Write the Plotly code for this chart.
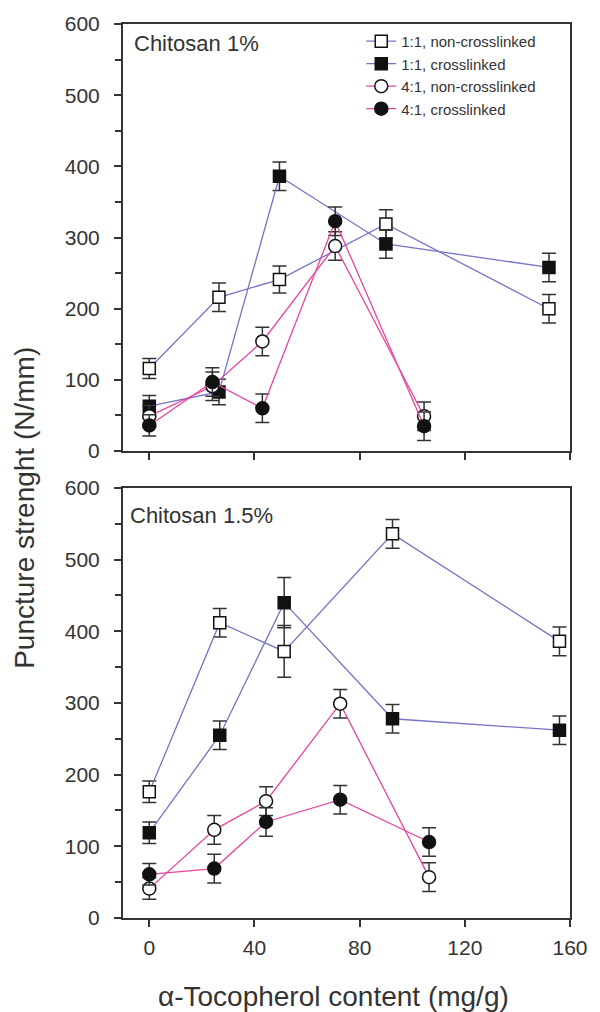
import plotly.graph_objects as go
from plotly.subplots import make_subplots

# ---- data ----
series_names = ["1:1, non-crosslinked", "1:1, crosslinked", "4:1, non-crosslinked", "4:1, crosslinked"]

# Chitosan 1%
top_x_11 = [0, 26.5, 49.5, 90, 152]
top_x_41 = [0, 24, 43, 70.7, 104.5]
top_11_nc = [116, 216, 241, 319, 200]
top_11_nc_err = [14, 20, 19, 20, 20]
top_11_c = [63, 83, 386, 291, 258]
top_11_c_err = [15, 18, 20, 20, 20]
top_41_nc = [49, 91, 154, 288, 49]
top_41_nc_err = [15, 20, 20, 20, 20]
top_41_c = [36, 97, 60, 323, 35]
top_41_c_err = [15, 20, 20, 20, 20]

# Chitosan 1.5%
bot_x_11 = [0, 26.8, 51.3, 92.5, 156]
bot_x_41 = [0, 24.7, 44.4, 72.6, 106.4]
bot_11_nc = [176, 412, 372, 536, 386]
bot_11_nc_err = [15, 20, 36, 20, 20]
bot_11_c = [119, 255, 440, 278, 262]
bot_11_c_err = [15, 20, 35, 20, 20]
bot_41_nc = [41, 123, 163, 299, 57]
bot_41_nc_err = [15, 20, 20, 20, 20]
bot_41_c = [61, 69, 134, 165, 106]
bot_41_c_err = [15, 20, 20, 20, 20]

x_ticks = [0, 40, 80, 120, 160]
y_ticks = [0, 100, 200, 300, 400, 500, 600]

BLUE = "#7474c6"
PINK = "#e8459f"
DARK = "#333333"
FONT = "Liberation Sans, Arial, sans-serif"

styles = [
    dict(color=BLUE, symbol="square", fill="white", size=12),
    dict(color=BLUE, symbol="square", fill="#111111", size=12),
    dict(color=PINK, symbol="circle", fill="white", size=13),
    dict(color=PINK, symbol="circle", fill="#111111", size=13),
]

fig = make_subplots(rows=2, cols=1, vertical_spacing=0.04)

panels = [
    (1, [(top_x_11, top_11_nc, top_11_nc_err), (top_x_11, top_11_c, top_11_c_err),
         (top_x_41, top_41_nc, top_41_nc_err), (top_x_41, top_41_c, top_41_c_err)]),
    (2, [(bot_x_11, bot_11_nc, bot_11_nc_err), (bot_x_11, bot_11_c, bot_11_c_err),
         (bot_x_41, bot_41_nc, bot_41_nc_err), (bot_x_41, bot_41_c, bot_41_c_err)]),
]

for row, data in panels:
    for i, (xs, ys, es) in enumerate(data):
        st = styles[i]
        fig.add_trace(go.Scatter(
            x=xs, y=ys, mode="lines+markers", name=series_names[i],
            showlegend=(row == 1), legendgroup=series_names[i],
            line=dict(color=st["color"], width=1.3),
            marker=dict(symbol=st["symbol"], size=st["size"], color=st["fill"],
                        line=dict(color="#111111", width=1.5)),
            error_y=dict(type="data", array=es, visible=True, color=DARK,
                         thickness=1.5, width=7),
        ), row=row, col=1)

axis_common = dict(
    showline=True, linecolor=DARK, linewidth=2, mirror=True,
    ticks="outside", ticklen=7, tickwidth=1.5, tickcolor=DARK,
    showgrid=False, zeroline=False,
    tickfont=dict(family=FONT, size=21, color=DARK),
)

for r in (1, 2):
    fig.update_xaxes(range=[-10, 160], tickvals=x_ticks, showticklabels=(r == 2),
                     ticklabelstandoff=3, row=r, col=1, **axis_common)
    fig.update_yaxes(range=[0, 600], tickvals=y_ticks, ticklabelstandoff=10,
                     minor=dict(ticks="outside", ticklen=6, tickwidth=1.5, tickcolor=DARK, dtick=50, tick0=0),
                     row=r, col=1, **axis_common)

fig.update_layout(
    width=600, height=1012,
    margin=dict(l=123, r=25, t=22, b=94),
    paper_bgcolor="white", plot_bgcolor="white",
    font=dict(family=FONT, color=DARK),
    legend=dict(x=0.533, y=0.999, xanchor="left", yanchor="top",
                bgcolor="rgba(0,0,0,0)", font=dict(family=FONT, size=15, color=DARK),
                tracegroupgap=0, itemwidth=30),
)

fig.update_yaxes(domain=[0.5223, 1.0], row=1, col=1)
fig.update_yaxes(domain=[0.0, 0.481], row=2, col=1)

fig.add_annotation(text="Chitosan 1%", xref="paper", yref="paper", x=0.02, y=0.9777,
                   xanchor="left", yanchor="middle", showarrow=False,
                   font=dict(family=FONT, size=22, color=DARK))
fig.add_annotation(text="Chitosan 1.5%", xref="paper", yref="paper", x=0.011, y=0.4498,
                   xanchor="left", yanchor="middle", showarrow=False,
                   font=dict(family=FONT, size=22, color=DARK))
fig.add_annotation(text="α-Tocopherol content (mg/g)", xref="paper", yref="paper",
                   x=0.472, y=-0.088, xanchor="center", yanchor="middle", showarrow=False,
                   font=dict(family=FONT, size=28, color=DARK))
fig.add_annotation(text="Puncture strenght (N/mm)", xref="paper", yref="paper",
                   x=-0.221, y=0.459, xanchor="center", yanchor="middle", showarrow=False,
                   textangle=-90, font=dict(family=FONT, size=28, color=DARK))

fig.write_html("out.html", config={"displayModeBar": False},
               post_script="document.body.style.margin='0px';")
